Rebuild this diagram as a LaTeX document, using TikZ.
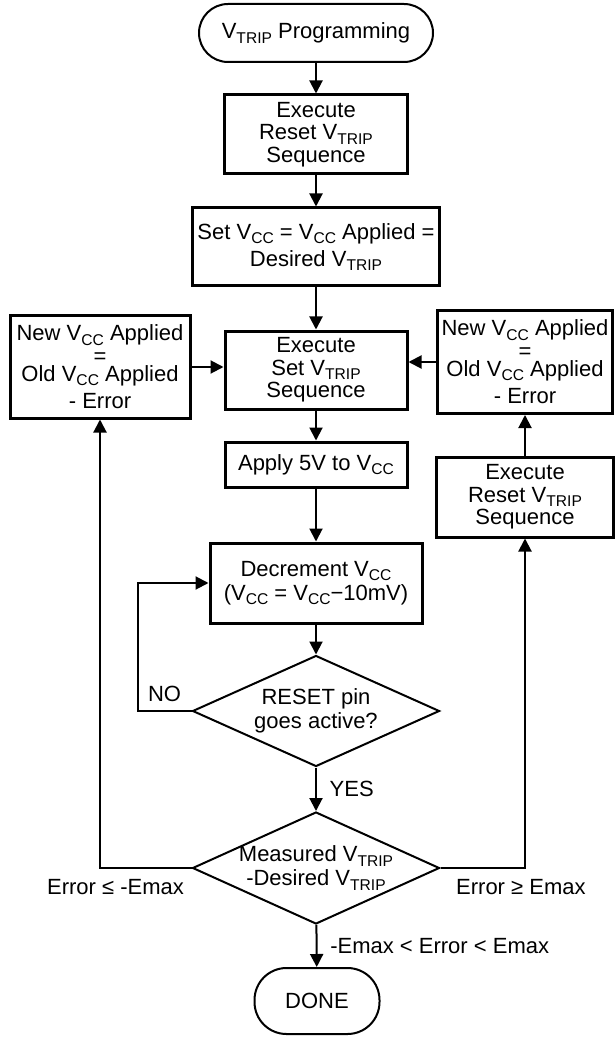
\documentclass[tikz,border=0pt]{standalone}
\usepackage{fontspec}
\setmainfont{Liberation Sans}
\usetikzlibrary{shapes.geometric,arrows.meta}
\newcommand{\lo}[1]{\raisebox{-2.2pt}{\fontsize{7.8pt}{7.8pt}\selectfont #1}}

\begin{document}
\begin{tikzpicture}[x=0.5pt, y=-0.5pt, font=\fontsize{11pt}{11.2pt}\selectfont]
    \tikzstyle{block} = [rectangle, draw, line width=1.5pt, align=center, inner sep=0pt]
    \tikzstyle{term} = [rectangle, draw, line width=1pt, align=center, inner sep=0pt]
    \tikzstyle{decision} = [diamond, draw, line width=1pt, align=center, inner sep=0pt, aspect=2.2]
    \tikzstyle{line} = [draw, line width=1pt, -{Triangle[length=6.5pt, width=6.5pt]}]
    \useasboundingbox (0,0) rectangle (615,1037);

    % main column
    \node [term, rounded corners=14.5pt, minimum width=117pt, minimum height=29pt] (start) at (316,33) {V\lo{TRIP} Programming};
    \node [block, minimum width=91.5pt, minimum height=39.5pt] (rst1) at (316,134.5) {Execute\\Reset V\lo{TRIP}\\Sequence};
    \node [block, minimum width=123.5pt, minimum height=39pt] (setcc) at (316,247) {Set V\lo{CC} = V\lo{CC} Applied =\\[2.5pt]Desired V\lo{TRIP}};
    \node [block, minimum width=91pt, minimum height=39pt] (setseq) at (316,370) {Execute\\Set V\lo{TRIP}\\Sequence};
    \node [block, minimum width=91pt, minimum height=22.5pt] (apply) at (316,464.5) {Apply 5V to V\lo{CC}};
    \node [block, minimum width=106pt, minimum height=40pt] (dec) at (316,583) {Decrement V\lo{CC}\\[1pt](V\lo{CC} = V\lo{CC}−10mV)};
    \node [decision, minimum width=123.5pt, minimum height=55.5pt] (chk) at (316,711) {RESET pin\\[0.8pt]goes active?};
    \node [decision, inner xsep=-4pt, aspect=2.13, minimum width=123.5pt, minimum height=56pt] (meas) at (316,868) {Measured V\lo{TRIP}\\[0.8pt]-Desired V\lo{TRIP}};
    \node [term, rounded corners=16pt, minimum width=62.5pt, minimum height=33pt] (done) at (317,1001) {DONE};

    % side columns
    \node [block, minimum width=90pt, minimum height=51pt] (newl) at (100,367) {New V\lo{CC} Applied\\=\\[-2pt]Old V\lo{CC} Applied\\[2.5pt]- Error};
    \node [block, minimum width=87.5pt, minimum height=51.5pt] (newr) at (525,362) {New V\lo{CC} Applied\\=\\[-2pt]Old V\lo{CC} Applied\\[2.5pt]- Error};
    \node [block, minimum width=88.5pt, minimum height=40pt] (rst2) at (525,497) {Execute\\Reset V\lo{TRIP}\\Sequence};

    \draw [line] (start) -- (rst1);
    \draw [line] (rst1) -- (setcc);
    \draw [line] (setcc) -- (setseq);
    \draw [line] (setseq) -- (apply);
    \draw [line] (apply) -- (dec);
    \draw [line] (dec) -- (chk);
    \draw [line] (chk) -- node [right, xshift=3pt] {YES} (meas);
    \draw [line] (meas) -- node [right, xshift=3pt] {-Emax < Error < Emax} (done);
    \draw [line] (chk.west) -- node [above, yshift=1pt] {NO} ++(-54,0) |- (dec.west);
    \draw [line] (meas.west) -| node [pos=0, below left, xshift=0pt, yshift=-2pt] {Error ≤ -Emax} (newl.south);
    \draw [line] (meas.east) -| node [pos=0, below right, xshift=4pt, yshift=-2pt] {Error ≥ Emax} (rst2.south);
    \draw [line] (rst2) -- (newr);
    \draw [line] (newl.east) -- (newl.east -| setseq.west);
    \draw [line] (newr.west) -- (newr.west -| setseq.east);
\end{tikzpicture}
\end{document}
